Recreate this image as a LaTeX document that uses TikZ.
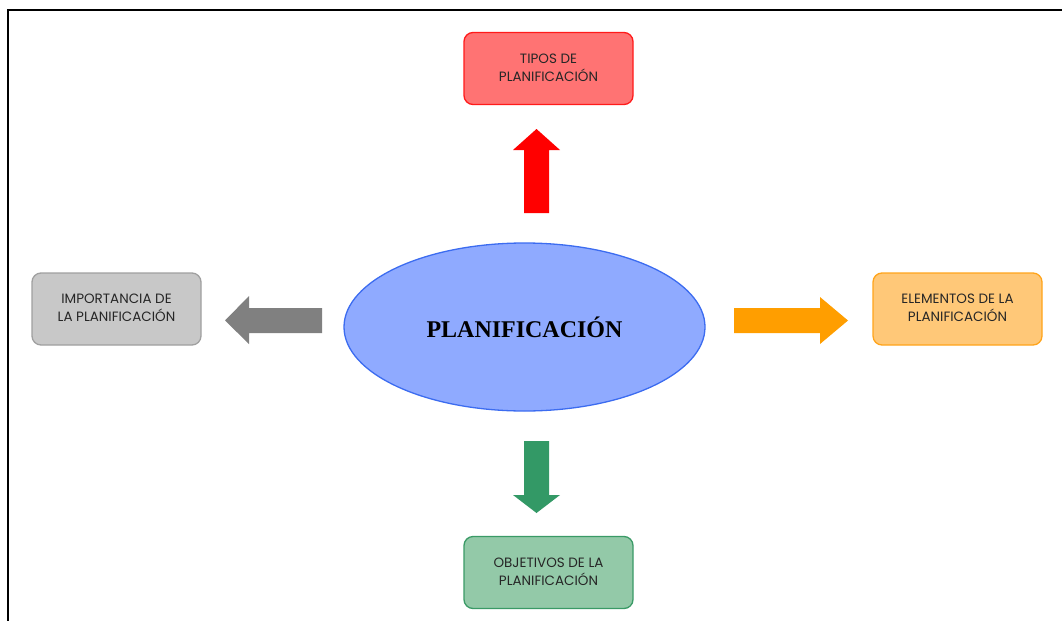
\documentclass[tikz,border=0pt]{standalone}
\usepackage{fontspec}
\setmainfont{Poppins}
\newfontfamily\titlefont{Liberation Serif}
\usetikzlibrary{shapes.geometric}
\definecolor{redfill}{HTML}{FF7373}
\definecolor{redline}{HTML}{FF1A1A}
\definecolor{redarrow}{HTML}{FF0000}
\definecolor{grayfill}{HTML}{C8C8C8}
\definecolor{grayline}{HTML}{A0A0A0}
\definecolor{grayarrow}{HTML}{808080}
\definecolor{orangefill}{HTML}{FFC878}
\definecolor{orangeline}{HTML}{FFA41B}
\definecolor{orangearrow}{HTML}{FF9E00}
\definecolor{greenfill}{HTML}{93C9A8}
\definecolor{greenline}{HTML}{3A9A66}
\definecolor{greenarrow}{HTML}{339966}
\definecolor{ellfill}{HTML}{8FAAFF}
\definecolor{ellline}{HTML}{3C6CF0}
\newcommand{\twolines}[2]{\raisebox{4pt}{\begin{tabular}{@{}c@{}}#1\\#2\end{tabular}}}
\tikzset{
  topic/.style={draw, line width=1.3pt, rounded corners=9pt, minimum width=169pt, minimum height=72pt,
    align=center, font=\fontsize{13.5}{18}\selectfont, text=black!85, inner sep=0pt}
}
\begin{document}
\begin{tikzpicture}[x=1pt,y=-1pt]
\useasboundingbox (0,0) rectangle (1062,621);
\draw[line width=2pt] (1062,10) -- (8.3,10) -- (8.3,621);
% central ellipse
\node[ellipse, draw=ellline, fill=ellfill, line width=1.3pt, minimum width=361pt, minimum height=168pt, inner sep=0pt,
  font=\titlefont\bfseries\fontsize{24}{28}\selectfont] (c) at (524.5,327) {PLANIFICACIÓN};
% topic boxes
\node[topic, draw=redline, fill=redfill] (tipos) at (548.5,68.5) {\twolines{TIPOS DE}{PLANIFICACIÓN}};
\node[topic, draw=grayline, fill=grayfill] (imp) at (116.5,309) {\twolines{IMPORTANCIA DE}{LA PLANIFICACIÓN}};
\node[topic, draw=orangeline, fill=orangefill] (elem) at (957.5,309) {\twolines{ELEMENTOS DE LA}{PLANIFICACIÓN}};
\node[topic, draw=greenline, fill=greenfill] (obj) at (548.5,572.5) {\twolines{OBJETIVOS DE LA}{PLANIFICACIÓN}};
% block arrows
\fill[redarrow] (524,213) -- (524,150) -- (513,150) -- (536.5,129) -- (560,150) -- (549,150) -- (549,213) -- cycle;
\fill[greenarrow] (524,441) -- (524,495) -- (513,495) -- (536.5,513) -- (560,495) -- (549,495) -- (549,441) -- cycle;
\fill[grayarrow] (322,308) -- (249,308) -- (249,296) -- (225,320.5) -- (249,344) -- (249,333) -- (322,333) -- cycle;
\fill[orangearrow] (734,308) -- (820,308) -- (820,297) -- (848,320.5) -- (820,344) -- (820,333) -- (734,333) -- cycle;
\end{tikzpicture}
\end{document}
